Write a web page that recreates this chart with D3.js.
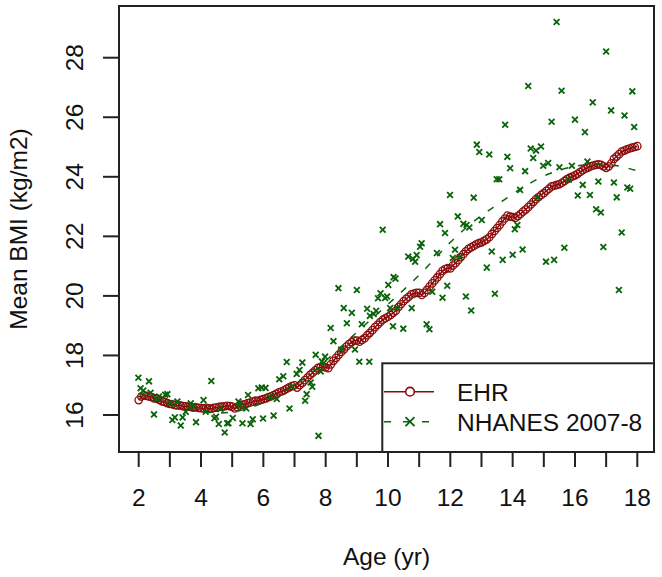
<!DOCTYPE html>
<html>
<head>
<meta charset="utf-8">
<script src="https://cdn.jsdelivr.net/npm/d3@7"></script>
<style>
  html, body { margin: 0; padding: 0; background: #fff; }
  svg { display: block; }
  text { font-family: "Liberation Sans", Arial, Helvetica, sans-serif; fill: #111; }
</style>
</head>
<body>
<svg id="chart" width="662" height="577"></svg>
<script>
// ---------------- DATA ----------------
// EHR: mean BMI by age in months (24 .. 216)
const ehrAgeMonths = d3.range(24, 217);
const ehrBmi = [
  16.50,16.62,16.66,16.64,16.62,16.60,16.56,16.55,16.51,16.46,16.44,16.40,
  16.37,16.36,16.33,16.32,16.32,16.30,16.29,16.28,16.27,16.25,16.26,16.24,
  16.23,16.22,16.24,16.22,16.21,16.24,16.25,16.27,16.28,16.29,16.31,16.30,
  16.28,16.22,16.26,16.32,16.35,16.36,16.40,16.42,16.45,16.48,16.47,16.51,
  16.53,16.56,16.60,16.63,16.67,16.71,16.76,16.79,16.83,16.88,16.93,16.97,
  17.00,16.92,17.00,17.08,17.17,17.26,17.35,17.42,17.50,17.58,17.60,17.62,
  17.60,17.57,17.70,17.82,17.92,18.02,18.12,18.20,18.30,18.38,18.45,18.50,
  18.50,18.46,18.52,18.58,18.68,18.76,18.85,18.95,19.03,19.12,19.20,19.25,
  19.30,19.36,19.43,19.50,19.62,19.72,19.82,19.90,19.97,20.05,20.08,20.10,
  20.10,20.03,20.10,20.20,20.31,20.42,20.52,20.62,20.73,20.84,20.90,20.93,
  20.92,21.02,21.10,21.20,21.30,21.40,21.50,21.58,21.63,21.68,21.73,21.77,
  21.80,21.85,21.90,21.97,22.08,22.18,22.28,22.38,22.50,22.60,22.70,22.66,
  22.65,22.62,22.68,22.75,22.83,22.90,22.98,23.07,23.16,23.25,23.32,23.39,
  23.45,23.53,23.60,23.68,23.70,23.73,23.75,23.80,23.86,23.92,23.97,24.01,
  24.05,24.10,24.16,24.22,24.27,24.31,24.35,24.38,24.40,24.42,24.40,24.35,
  24.30,24.35,24.45,24.60,24.68,24.76,24.85,24.88,24.92,24.95,24.98,25.00,
  25.03
];

// NHANES 2007-8: individual age means (age yr, BMI)
const nhanesAge = [
  1.99,2.06,2.15,2.33,2.38,2.49,2.65,2.85,2.92,3.08,3.16,3.24,3.35,3.41,3.51,3.67,3.84,4.08,4.15,4.33,
  4.43,4.48,4.57,4.76,4.84,4.88,5.02,5.20,5.33,5.45,5.51,5.59,5.66,5.84,5.95,6.07,5.99,6.33,6.43,6.51,
  6.64,6.75,6.84,7.07,7.16,7.25,7.34,7.39,7.52,7.57,7.68,7.77,7.84,7.88,7.93,7.98,8.16,8.25,8.41,8.58,
  8.68,8.84,8.94,9.00,9.08,9.16,9.33,9.40,9.42,9.54,9.62,9.68,9.76,9.83,9.91,9.97,10.01,10.07,10.16,10.18,
  10.24,10.49,10.65,10.76,10.80,10.87,10.92,11.03,11.08,11.24,11.33,11.42,11.57,11.67,11.75,11.83,11.90,11.99,12.08,12.15,
  12.24,12.42,12.52,12.61,12.50,12.67,12.75,12.85,12.93,13.01,13.17,13.25,13.33,13.43,13.49,13.57,13.68,13.76,13.83,13.92,
  14.00,14.07,14.15,14.24,14.32,14.40,14.50,14.58,14.66,14.75,14.91,14.98,15.07,15.14,15.25,15.33,15.41,15.50,15.57,15.66,
  15.90,16.00,16.09,16.25,16.32,16.40,16.48,16.57,16.68,16.75,16.83,16.91,17.00,17.16,17.25,17.34,17.41,17.50,17.59,17.68,
  17.77,17.84,17.90,2.55,3.00,3.75,4.62,5.25,6.20,6.92,8.50,10.30,12.30,14.80,15.80
];
const nhanesBmi = [
  17.25,16.90,16.82,17.13,16.75,16.02,16.62,16.68,16.70,15.83,15.92,16.45,15.65,15.92,16.11,16.39,15.76,16.50,16.11,17.14,
  15.89,15.94,15.70,15.41,15.72,15.72,15.90,16.45,15.72,16.22,16.67,15.70,15.86,16.90,16.92,16.91,15.88,15.98,16.54,17.20,
  17.30,17.78,16.22,17.38,17.51,17.76,16.48,16.70,17.09,16.95,18.02,15.30,17.46,17.80,17.74,17.96,18.92,18.48,20.26,19.59,
  19.08,19.43,18.20,20.20,17.79,19.05,19.57,17.79,19.33,19.39,19.50,19.92,20.09,22.22,19.93,19.98,20.37,19.59,18.98,20.63,
  20.58,18.90,21.32,19.59,21.25,21.15,21.37,21.65,21.77,19.05,18.88,20.14,21.44,22.41,19.94,22.11,20.34,23.39,21.27,21.55,
  22.67,22.42,22.38,22.30,19.98,19.51,23.30,25.08,24.83,22.55,20.95,24.75,21.49,20.07,23.92,23.92,21.21,25.75,24.67,24.29,
  21.38,22.24,22.38,23.56,21.56,24.19,27.05,24.95,24.63,24.88,25.02,24.37,21.15,24.46,25.85,21.21,29.20,24.32,26.89,21.62,
  24.37,25.92,23.37,23.73,25.50,24.51,23.39,26.50,22.91,23.84,22.80,21.64,28.21,26.23,23.81,23.31,20.20,22.13,26.06,23.64,
  23.60,26.87,25.67,16.55,16.40,16.30,16.20,16.30,16.60,16.95,18.20,19.60,21.30,23.30,23.90
];

// NHANES smooth fit (dashed)
const fitAge = [2,2.5,3,3.5,4,4.5,5,5.5,6,6.5,7,7.5,8,8.5,9,9.5,10,10.5,11,11.5,12,12.5,13,13.5,14,14.5,15,15.5,16,16.5,17,17.5,18];
const fitBmi = [16.72,16.52,16.36,16.22,16.12,16.07,16.10,16.22,16.42,16.68,17.00,17.38,17.82,18.30,18.78,19.25,19.72,20.20,20.70,21.25,21.80,22.28,22.70,23.06,23.42,23.75,24.03,24.22,24.35,24.42,24.42,24.34,24.20];

const xTicks = d3.range(2, 19, 1);
const xTickLabels = [2,4,6,8,10,12,14,16,18];
const yTickLabels = [16,18,20,22,24,26,28];
const legendLabels = ["EHR", "NHANES 2007-8"];

// ---------------- CHART ----------------
const RED = "#8b0c0c", GREEN = "#0a640a", INK = "#222";
const svg = d3.select("#chart");
const box = {x0: 119, x1: 654, y0: 6, y1: 452};
const x = d3.scaleLinear().domain([2, 18]).range([138.7, 637.3]);
const y = d3.scaleLinear().domain([16, 28]).range([415, 57.7]);
const FS = 24.5;

const plot = svg.append("g");

// EHR line + circles
const ehr = ehrAgeMonths.map((m, i) => ({a: m / 12, v: ehrBmi[i]}));
plot.append("path").datum(ehr)
  .attr("fill", "none").attr("stroke", RED).attr("stroke-width", 1.5)
  .attr("d", d3.line().x(d => x(d.a)).y(d => y(d.v)));
plot.selectAll("circle.ehr").data(ehr).join("circle")
  .attr("class", "ehr")
  .attr("cx", d => x(d.a)).attr("cy", d => y(d.v)).attr("r", 3.7)
  .attr("fill", "none").attr("stroke", RED).attr("stroke-width", 1.3);

// NHANES x marks
function xMark(g, cx, cy, s, w) {
  g.append("path")
    .attr("d", `M${cx - s},${cy - s}L${cx + s},${cy + s}M${cx - s},${cy + s}L${cx + s},${cy - s}`)
    .attr("stroke", GREEN).attr("stroke-width", w).attr("fill", "none");
}
nhanesAge.forEach((a, i) => xMark(plot, x(a), y(nhanesBmi[i]), 2.9, 1.8));

// NHANES fit dashed
plot.append("path").datum(fitAge.map((a, i) => [a, fitBmi[i]]))
  .attr("fill", "none").attr("stroke", GREEN).attr("stroke-width", 1.5)
  .attr("stroke-dasharray", "7,10")
  .attr("d", d3.line().x(d => x(d[0])).y(d => y(d[1])).curve(d3.curveCatmullRom));

// frame
svg.append("rect").attr("x", box.x0).attr("y", box.y0)
  .attr("width", box.x1 - box.x0).attr("height", box.y1 - box.y0)
  .attr("fill", "none").attr("stroke", INK).attr("stroke-width", 2);

// x axis
const xa = svg.append("g");
xa.selectAll("line").data(xTicks).join("line")
  .attr("x1", d => x(d)).attr("x2", d => x(d))
  .attr("y1", box.y1).attr("y2", box.y1 + 15)
  .attr("stroke", INK).attr("stroke-width", 2);
xa.selectAll("text").data(xTickLabels).join("text")
  .attr("x", d => x(d)).attr("y", 506)
  .attr("text-anchor", "middle").attr("font-size", FS)
  .text(d => d);
svg.append("text").attr("x", (box.x0 + box.x1) / 2).attr("y", 565)
  .attr("text-anchor", "middle").attr("font-size", FS).text("Age (yr)");

// y axis
const ya = svg.append("g");
ya.selectAll("line").data(yTickLabels).join("line")
  .attr("x1", box.x0 - 16).attr("x2", box.x0)
  .attr("y1", d => y(d)).attr("y2", d => y(d))
  .attr("stroke", INK).attr("stroke-width", 2);
ya.selectAll("text").data(yTickLabels).join("text")
  .attr("transform", d => `translate(83.3,${y(d)}) rotate(-90)`)
  .attr("text-anchor", "middle").attr("font-size", FS)
  .text(d => d);
svg.append("text")
  .attr("transform", `translate(27,${(box.y0 + box.y1) / 2}) rotate(-90)`)
  .attr("text-anchor", "middle").attr("font-size", FS).text("Mean BMI (kg/m2)");

// legend
const lg = svg.append("g");
lg.append("rect").attr("x", 382.3).attr("y", 363.3)
  .attr("width", box.x1 - 382.3).attr("height", box.y1 - 363.3)
  .attr("fill", "#fff").attr("stroke", INK).attr("stroke-width", 2);
const ly = [391.7, 421.7];
lg.append("line").attr("x1", 384).attr("x2", 434).attr("y1", ly[0]).attr("y2", ly[0])
  .attr("stroke", RED).attr("stroke-width", 1.6);
lg.append("circle").attr("cx", 410).attr("cy", ly[0]).attr("r", 4.3)
  .attr("fill", "#fff").attr("stroke", RED).attr("stroke-width", 1.6);
lg.append("line").attr("x1", 384).attr("x2", 434).attr("y1", ly[1]).attr("y2", ly[1])
  .attr("stroke", GREEN).attr("stroke-width", 1.6).attr("stroke-dasharray", "7,12");
xMark(lg, 410, ly[1], 4.5, 1.9);
lg.selectAll("text.lt").data(legendLabels).join("text")
  .attr("class", "lt")
  .attr("x", 457).attr("y", (d, i) => ly[i] + 8.8)
  .attr("font-size", FS).text(d => d);
</script>
</body>
</html>
